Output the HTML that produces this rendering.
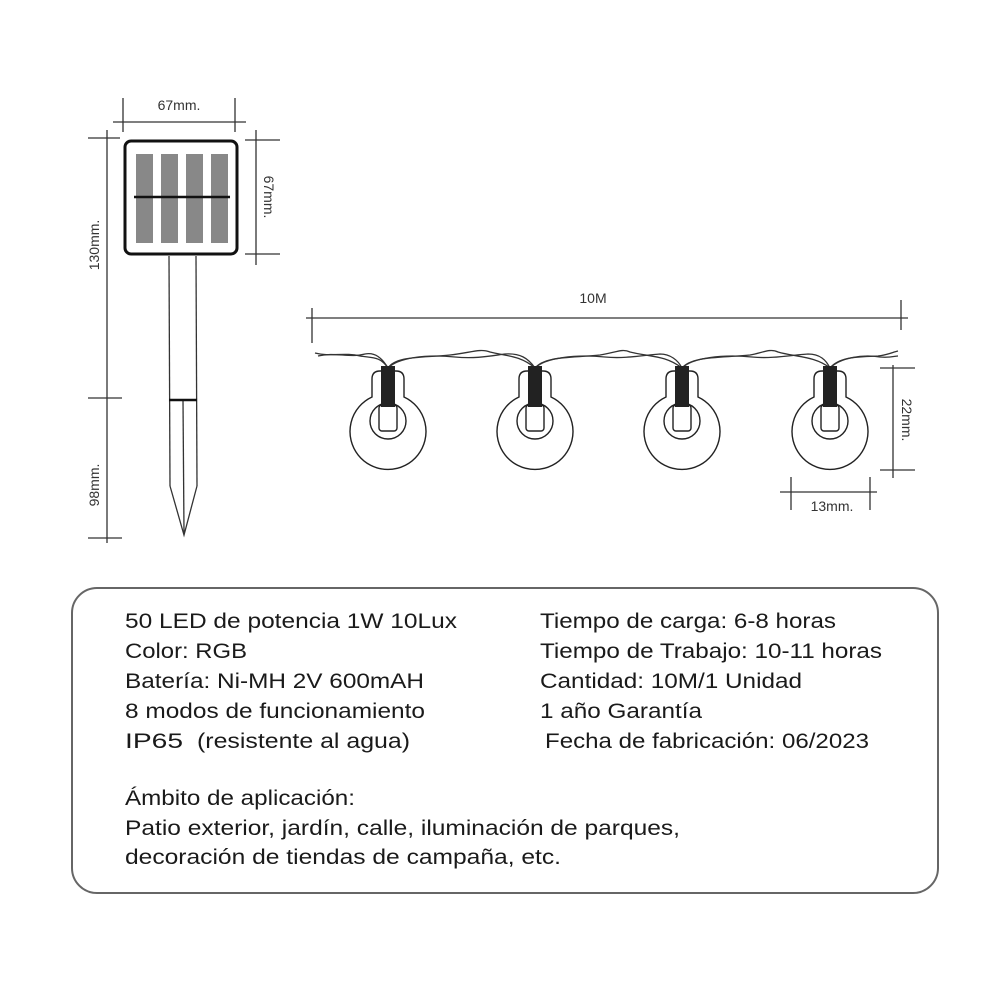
<!DOCTYPE html>
<html><head><meta charset="utf-8"><style>html,body{margin:0;padding:0;background:#fff}svg{display:block}</style></head><body>
<svg width="1000" height="1000" viewBox="0 0 1000 1000" xmlns="http://www.w3.org/2000/svg" font-family="Liberation Sans, Arial, sans-serif">
<g stroke="#333" stroke-width="1.3" fill="none">
<line x1="113" y1="122" x2="246" y2="122"/><line x1="123" y1="98" x2="123" y2="132"/><line x1="235" y1="98" x2="235" y2="132"/>
<line x1="256" y1="130" x2="256" y2="265"/><line x1="245" y1="140" x2="280" y2="140"/><line x1="245" y1="254" x2="280" y2="254"/>
<line x1="107" y1="130" x2="107" y2="543"/><line x1="88" y1="138" x2="120" y2="138"/><line x1="88" y1="398" x2="122" y2="398"/><line x1="88" y1="538" x2="122" y2="538"/>
<line x1="169" y1="256" x2="170" y2="486"/><line x1="196" y1="256" x2="197" y2="486"/>
<path d="M170 486 L184 535 L197 486"/><line x1="183" y1="400" x2="184" y2="533"/>
<line x1="169" y1="400" x2="197" y2="400" stroke-width="2.5" stroke="#111"/>
<line x1="306" y1="318" x2="908" y2="318"/><line x1="312" y1="308" x2="312" y2="343"/><line x1="901" y1="300" x2="901" y2="330"/>
<line x1="893" y1="365" x2="893" y2="478"/><line x1="880" y1="368" x2="915" y2="368"/><line x1="880" y1="470" x2="915" y2="470"/>
<line x1="780" y1="492" x2="877" y2="492"/><line x1="791" y1="477" x2="791" y2="510"/><line x1="870" y1="477" x2="870" y2="510"/>
<path d="M315 353 C330 357 345 352 360 356 C372 358 380 356 388 368"/>
<path d="M318 356 C335 352 350 358 365 354 C375 352 382 358 388 368"/>
<path d="M388 368 C396 356 420 358 450 355 C470 353 480 348 490 352 C505 356 520 355 535 368"/>
<path d="M388 368 C398 358 425 354 455 357 C475 359 490 356 505 354 C520 353 528 358 535 368"/>
<path d="M535 368 C545 356 570 358 600 355 C615 353 622 348 630 352 C650 357 665 355 682 368"/>
<path d="M535 368 C545 358 575 354 605 357 C625 359 645 355 660 354 C670 354 678 360 682 368"/>
<path d="M682 368 C692 356 720 358 750 355 C762 353 770 348 778 352 C795 357 815 356 830 368"/>
<path d="M682 368 C692 358 722 354 752 357 C772 359 792 355 808 354 C820 354 826 360 830 368"/>
<path d="M830 368 C840 356 860 357 878 356 C888 355 893 352 898 351"/>
<path d="M830 368 C840 358 862 354 880 357 C890 358 895 356 898 356"/>
</g>
<rect x="125" y="141" width="112" height="113" rx="6" fill="none" stroke="#111" stroke-width="3"/>
<g fill="#888">
<rect x="136" y="154" width="17" height="89"/><rect x="161" y="154" width="17" height="89"/><rect x="186" y="154" width="17" height="89"/><rect x="211" y="154" width="17" height="89"/>
</g>
<line x1="134" y1="197" x2="230" y2="197" stroke="#111" stroke-width="2.5"/>
<defs>
<g id="b">
<path d="M-16 397 L-16 379 Q-16 371 -8 371 L8 371 Q16 371 16 379 L16 397 A38 38 0 1 1 -16 397 Z" fill="none" stroke="#222" stroke-width="1.4"/>
<circle cx="0" cy="421" r="18" fill="none" stroke="#222" stroke-width="1.4"/>
<rect x="-9" y="405" width="18" height="26" rx="3" fill="none" stroke="#222" stroke-width="1.4"/>
<rect x="-7" y="366" width="14" height="41" fill="#222"/>
</g>
</defs>
<use href="#b" x="388"/><use href="#b" x="535"/><use href="#b" x="682"/><use href="#b" x="830"/>
<g fill="#333" font-size="14">
<text x="179" y="110" text-anchor="middle">67mm.</text>
<text transform="translate(264,197) rotate(90)" text-anchor="middle">67mm.</text>
<text transform="translate(99,245) rotate(-90)" text-anchor="middle">130mm.</text>
<text transform="translate(99,485) rotate(-90)" text-anchor="middle">98mm.</text>
<text x="593" y="303" text-anchor="middle">10M</text>
<text transform="translate(902,420) rotate(90)" text-anchor="middle">22mm.</text>
<text x="832" y="511" text-anchor="middle">13mm.</text>
</g>
<rect x="72" y="588" width="866" height="305" rx="25" fill="none" stroke="#666" stroke-width="2"/>
<g fill="#1a1a1a" font-size="21">
<text x="125" y="628" textLength="332" lengthAdjust="spacingAndGlyphs">50 LED de potencia 1W 10Lux</text>
<text x="125" y="658" textLength="122" lengthAdjust="spacingAndGlyphs">Color: RGB</text>
<text x="125" y="688" textLength="299" lengthAdjust="spacingAndGlyphs">Batería: Ni-MH 2V 600mAH</text>
<text x="125" y="718" textLength="300" lengthAdjust="spacingAndGlyphs">8 modos de funcionamiento</text>
<text x="125" y="748" textLength="58" lengthAdjust="spacingAndGlyphs">IP65</text>
<text x="197" y="748" textLength="213" lengthAdjust="spacingAndGlyphs">(resistente al agua)</text>
<text x="540" y="628" textLength="296" lengthAdjust="spacingAndGlyphs">Tiempo de carga: 6-8 horas</text>
<text x="540" y="658" textLength="342" lengthAdjust="spacingAndGlyphs">Tiempo de Trabajo: 10-11 horas</text>
<text x="540" y="688" textLength="262" lengthAdjust="spacingAndGlyphs">Cantidad: 10M/1 Unidad</text>
<text x="540" y="718" textLength="162" lengthAdjust="spacingAndGlyphs">1 año Garantía</text>
<text x="545" y="748" textLength="324" lengthAdjust="spacingAndGlyphs">Fecha de fabricación: 06/2023</text>
<text x="125" y="805" textLength="230" lengthAdjust="spacingAndGlyphs">Ámbito de aplicación:</text>
<text x="125" y="835" textLength="555" lengthAdjust="spacingAndGlyphs">Patio exterior, jardín, calle, iluminación de parques,</text>
<text x="125" y="864" textLength="436" lengthAdjust="spacingAndGlyphs">decoración de tiendas de campaña, etc.</text>
</g>
</svg>
</body></html>
